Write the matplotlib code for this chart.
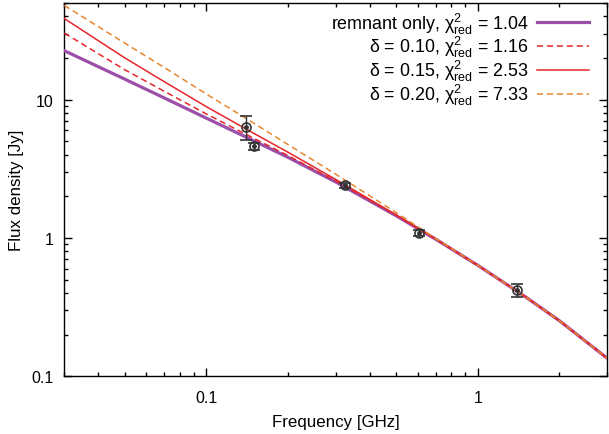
import matplotlib
matplotlib.use("Agg")
import matplotlib.pyplot as plt
from matplotlib.ticker import FixedLocator, FixedFormatter, LogLocator, NullFormatter

plt.rcParams['font.family'] = ['Liberation Sans', 'DejaVu Sans']
plt.rcParams['mathtext.fontset'] = 'custom'
plt.rcParams['mathtext.rm'] = 'Liberation Sans'
plt.rcParams['mathtext.it'] = 'Liberation Sans:italic'
plt.rcParams['mathtext.default'] = 'regular'

# model curves (frequency in GHz, flux density in Jy)
model_freq = [0.03, 0.05, 0.07, 0.1, 0.14, 0.2, 0.3, 0.5, 0.7, 1.0, 1.5, 2.0, 3.0]
remnant_only = [22.6, 14.1, 10.3, 7.36, 5.37, 3.83, 2.54, 1.45, 0.98, 0.635, 0.375, 0.252, 0.135]
delta_010 = [30.3, 16.5, 11.5, 7.89, 5.62, 3.94, 2.58, 1.46, 0.98, 0.635, 0.375, 0.252, 0.135]
delta_015 = [38.6, 20.1, 13.5, 8.91, 6.14, 4.17, 2.65, 1.47, 0.985, 0.635, 0.375, 0.252, 0.135]
delta_020 = [48.0, 25.7, 17.1, 11.0, 7.33, 4.74, 2.89, 1.53, 0.99, 0.635, 0.375, 0.252, 0.135]

# observed data
obs_freq = [0.14, 0.15, 0.325, 0.61, 1.4]
obs_flux = [6.35, 4.6, 2.40, 1.09, 0.418]
obs_err = [1.25, 0.3, 0.1, 0.05, 0.045]

labels = [r'remnant only, $\chi^2_{\rm red}$ = 1.04',
          r'δ = 0.10, $\chi^2_{\rm red}$ = 1.16',
          r'δ = 0.15, $\chi^2_{\rm red}$ = 2.53',
          r'δ = 0.20, $\chi^2_{\rm red}$ = 7.33']

xticks = [0.1, 1]
xticklabels = ['0.1', '1']
yticks = [0.1, 1, 10]
yticklabels = ['0.1', '1', '10']

fig = plt.figure(figsize=(6.09, 4.35), dpi=100)
ax = fig.add_axes([0.1056, 0.1326, 0.8916, 0.8582])

purple = '#9b4fa8'
red = '#e5262a'
orange = '#e8862e'

ax.plot(model_freq, remnant_only, color=purple, lw=2.3, label=labels[0], zorder=3)
ax.plot(model_freq, delta_010, color=red, lw=1.1, ls=(0, (4, 2.5)), label=labels[1], zorder=4)
ax.plot(model_freq, delta_015, color=red, lw=1.1, ls='-', label=labels[2], zorder=4)
ax.plot(model_freq, delta_020, color=orange, lw=1.1, ls=(0, (4, 2.5)), label=labels[3], zorder=4)

ax.errorbar(obs_freq, obs_flux, yerr=obs_err, fmt='o', ms=6.5, mfc='none', mec='#333333',
            mew=1.2, ecolor='#333333', elinewidth=1.0, capsize=4, capthick=1.0, zorder=5)
ax.plot(obs_freq, obs_flux, 'o', ms=2.5, color='#333333', zorder=6)

ax.set_xscale('log')
ax.set_yscale('log')
ax.set_xlim(0.03, 3)
ax.set_ylim(0.1, 50)

ax.xaxis.set_major_locator(FixedLocator(xticks))
ax.xaxis.set_major_formatter(FixedFormatter(xticklabels))
ax.yaxis.set_major_locator(FixedLocator(yticks))
ax.yaxis.set_major_formatter(FixedFormatter(yticklabels))
ax.xaxis.set_minor_locator(LogLocator(base=10, subs=range(2, 10), numticks=20))
ax.yaxis.set_minor_locator(LogLocator(base=10, subs=range(2, 10), numticks=20))
ax.xaxis.set_minor_formatter(NullFormatter())
ax.yaxis.set_minor_formatter(NullFormatter())

ax.tick_params(which='both', direction='in', top=True, right=True, width=1.0, labelsize=11.5)
ax.tick_params(which='major', length=6)
ax.tick_params(which='minor', length=3)
ax.tick_params(axis='x', pad=10)
ax.tick_params(axis='y', pad=8)
for s in ax.spines.values():
    s.set_linewidth(1.0)

ax.set_xlabel('Frequency [GHz]', fontsize=12.2, labelpad=6)
ax.set_ylabel('Flux density [Jy]', fontsize=12.2, labelpad=5)

leg = ax.legend(loc='upper right', bbox_to_anchor=(0.966, 0.98), frameon=False, markerfirst=False,
                fontsize=12.9, handlelength=2.9, handletextpad=0.46, labelspacing=-0.07,
                borderaxespad=0.0, borderpad=0.0)
for t in leg.get_texts():
    t.set_ha('right')

fig.savefig('out.png', dpi=100)
